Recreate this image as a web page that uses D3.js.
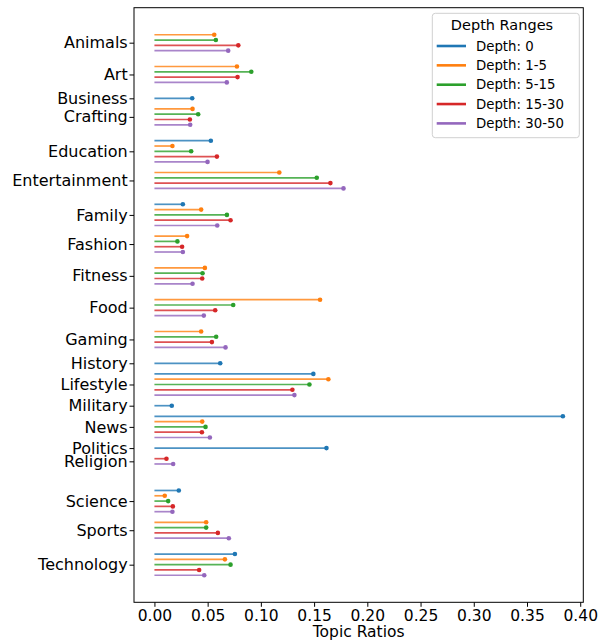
<!DOCTYPE html>
<html>
<head>
<meta charset="utf-8">
<script src="https://cdn.jsdelivr.net/npm/d3@7"></script>
<style>
  html, body { margin: 0; padding: 0; background: #fff; }
  svg { display: block; }
</style>
</head>
<body>
<svg id="chart" width="603" height="644" font-family="DejaVu Sans"></svg>
<script>
// Topic ratios per depth range (null = topic not present at that depth)
const categories = ["Animals", "Art", "Business", "Crafting", "Education", "Entertainment",
  "Family", "Fashion", "Fitness", "Food", "Gaming", "History", "Lifestyle", "Military",
  "News", "Politics", "Religion", "Science", "Sports", "Technology"];

const depth0    = [null, null, 0.0355, null, 0.053, null, 0.0267, null, null, null, null, 0.0618, 0.1493, 0.0163, 0.3837, 0.1616, null, 0.0229, null, 0.0756];
const depth1_5  = [0.0562, 0.0775, null, 0.0358, 0.0169, 0.1173, 0.0439, 0.0307, 0.0474, 0.1556, 0.0439, null, 0.1634, null, 0.0449, null, null, 0.0097, 0.0486, 0.0662];
const depth5_15 = [0.0577, 0.0910, null, 0.0411, 0.0345, 0.1525, 0.0681, 0.0216, 0.0452, 0.0740, 0.0580, null, 0.1456, null, 0.0480, null, null, 0.0129, 0.0486, 0.0715];
const depth15_30 = [0.0788, 0.0781, null, 0.0333, 0.0587, 0.1653, 0.0715, 0.0260, 0.0449, 0.0571, 0.0540, null, 0.1296, null, 0.0446, null, 0.0113, 0.0173, 0.0596, 0.0420];
const depth30_50 = [0.0693, 0.0680, null, 0.0336, 0.0499, 0.1776, 0.0590, 0.0267, 0.0358, 0.0464, 0.0668, null, 0.1315, null, 0.0521, null, 0.0176, 0.0169, 0.0699, 0.0468];

const seriesNames = ["Depth: 0", "Depth: 1-5", "Depth: 5-15", "Depth: 15-30", "Depth: 30-50"];
const seriesValues = [depth0, depth1_5, depth5_15, depth15_30, depth30_50];
const colors = ["#1f77b4", "#ff7f0e", "#2ca02c", "#d62728", "#9467bd"];

const xTicks = [0, 0.05, 0.10, 0.15, 0.20, 0.25, 0.30, 0.35, 0.40];

// Stack the present depths of each topic into consecutive rows
const rows = [];
const tickPos = [];
let slot = 1;
categories.forEach((cat, i) => {
  const present = [];
  seriesValues.forEach((vals, s) => {
    if (vals[i] != null) present.push({ cat, s, value: vals[i] });
  });
  present.forEach((r, k) => { r.row = slot + k; rows.push(r); });
  tickPos.push({ cat, row: d3.mean(present, r => r.row) });
  slot += present.length === 1 ? 2 : 6;
});

const svg = d3.select("#chart");
const plot = { left: 134, right: 583.3, top: 7.7, bottom: 602.3 };

const xMax = d3.max(rows, r => r.value);
const x = d3.scaleLinear()
  .domain([-0.05 * xMax, xMax * 1.05])
  .range([plot.left, plot.right]);

const rowExt = d3.extent(rows, r => r.row);
const rPad = (rowExt[1] - rowExt[0]) * 0.05;
const y = d3.scaleLinear()
  .domain([rowExt[0] - rPad, rowExt[1] + rPad])
  .range([plot.top, plot.bottom]);

// stems
svg.append("g").selectAll("line")
  .data(rows).join("line")
  .attr("x1", x(0)).attr("x2", d => x(d.value))
  .attr("y1", d => y(d.row)).attr("y2", d => y(d.row))
  .attr("stroke", d => colors[d.s])
  .attr("stroke-width", 1.7)
  .attr("stroke-opacity", 0.8);

// end markers
svg.append("g").selectAll("circle")
  .data(rows).join("circle")
  .attr("cx", d => x(d.value)).attr("cy", d => y(d.row))
  .attr("r", 2.3)
  .attr("fill", d => colors[d.s]);

// axes
const xAxis = svg.append("g")
  .attr("transform", `translate(0,${plot.bottom})`)
  .call(d3.axisBottom(x).tickValues(xTicks).tickFormat(d3.format(".2f")).tickSize(4.5).tickPadding(3.5));
xAxis.select(".domain").remove();
xAxis.attr("font-family", "DejaVu Sans").attr("font-size", 15.5);
xAxis.selectAll("text").attr("fill", "#000");
xAxis.selectAll("line").attr("stroke", "#000").attr("stroke-width", 1);

const yAxis = svg.append("g")
  .attr("transform", `translate(${plot.left},0)`)
  .call(d3.axisLeft(y).tickValues(tickPos.map(t => t.row))
    .tickFormat((d, i) => tickPos[i].cat).tickSize(4.5).tickPadding(1.8));
yAxis.select(".domain").remove();
yAxis.attr("font-family", "DejaVu Sans").attr("font-size", 16);
yAxis.selectAll("text").attr("fill", "#000");
yAxis.selectAll("line").attr("stroke", "#000").attr("stroke-width", 1);

// frame
svg.append("rect")
  .attr("x", plot.left).attr("y", plot.top)
  .attr("width", plot.right - plot.left).attr("height", plot.bottom - plot.top)
  .attr("fill", "none").attr("stroke", "#000").attr("stroke-width", 1);

svg.append("text")
  .attr("x", (plot.left + plot.right) / 2).attr("y", 637)
  .attr("text-anchor", "middle").attr("font-size", 15.5)
  .text("Topic Ratios");

// legend
const lg = svg.append("g");
lg.append("rect")
  .attr("x", 432.3).attr("y", 13.3).attr("width", 147).attr("height", 124.4)
  .attr("rx", 3).attr("fill", "#fff").attr("fill-opacity", 0.8)
  .attr("stroke", "#d0d0d0").attr("stroke-width", 1);
lg.append("text")
  .attr("x", 502).attr("y", 30).attr("text-anchor", "middle")
  .attr("font-size", 14.5).text("Depth Ranges");
const items = lg.selectAll("g.item").data(seriesNames).join("g").attr("class", "item")
  .attr("transform", (d, i) => `translate(0,${46 + i * 19.35})`);
items.append("line")
  .attr("x1", 436.7).attr("x2", 466).attr("y1", 0).attr("y2", 0)
  .attr("stroke", (d, i) => colors[i]).attr("stroke-width", 2.6);
items.append("text")
  .attr("x", 476).attr("y", 0).attr("dy", "0.36em")
  .attr("font-size", 13.3).text(d => d);
</script>
</body>
</html>
